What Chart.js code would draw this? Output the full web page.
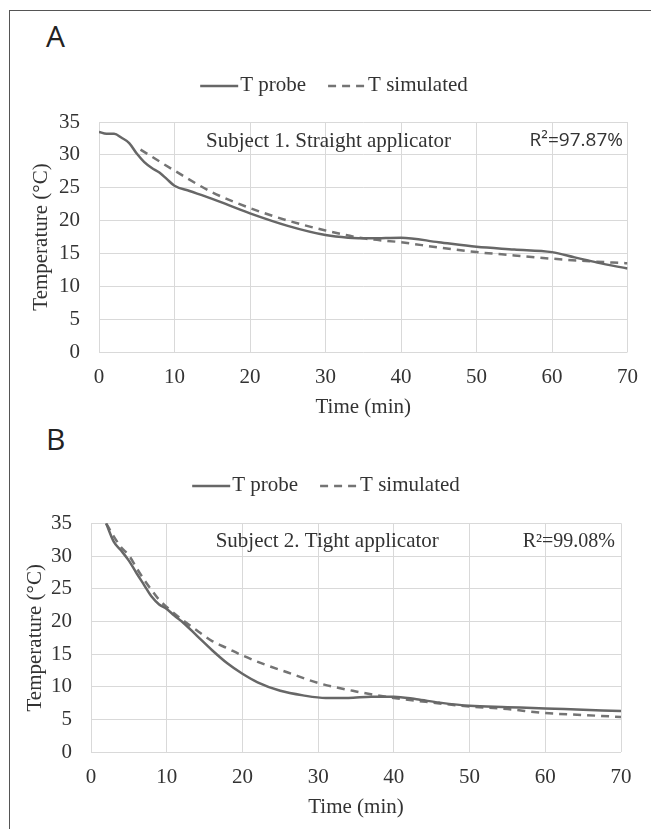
<!DOCTYPE html>
<html>
<head>
<meta charset="utf-8">
<script src="https://cdn.jsdelivr.net/npm/chart.js@4"></script>
<style>
    body { margin: 0; background: #fff; width: 651px; height: 829px; overflow: hidden; position: relative; }
    .frame { position: absolute; left: 9px; top: 10px; width: 700px; height: 900px; border-left: 1.5px solid #555; border-top: 1.5px solid #555; }
    .panel-letter { position: absolute; left: 46px; font: 30px 'Open Sans', 'Liberation Sans', sans-serif; color: #222; line-height: 1; }
    canvas { position: absolute; left: 0; }
</style>
</head>
<body>
<div class="frame"></div>
<div class="panel-letter" style="top: 21px;">A</div>
<div class="panel-letter" style="top: 424px;">B</div>
<canvas id="chartA" width="651" height="420" style="top: 0;"></canvas>
<canvas id="chartB" width="651" height="409" style="top: 420px;"></canvas>

<script>
// axis ticks
const xTicks = [0, 10, 20, 30, 40, 50, 60, 70];
const yTicks = [0, 5, 10, 15, 20, 25, 30, 35];

// Subject 1 - straight applicator
const timeProbeA = [0, 1, 2, 3, 4, 5, 6, 7, 8, 9, 10, 12, 15, 20, 25, 30, 33, 36, 40, 45, 50, 55, 60, 63, 66, 70];
const tempProbeA = [33.5, 33.2, 33.2, 32.6, 31.8, 30.2, 28.9, 28.0, 27.3, 26.3, 25.3, 24.5, 23.3, 21.1, 19.2, 17.8, 17.4, 17.3, 17.4, 16.7, 16.0, 15.6, 15.2, 14.4, 13.6, 12.7];
const timeSimA = [5.5, 10, 15, 20, 25, 30, 35, 40, 45, 50, 55, 60, 65, 70];
const tempSimA = [30.8, 27.6, 24.3, 21.9, 20.0, 18.5, 17.3, 16.7, 15.9, 15.2, 14.7, 14.2, 13.8, 13.5];

// Subject 2 - tight applicator
const timeProbeB = [2, 3, 4, 5, 6, 7, 8, 9, 10, 11, 12, 14, 16, 18, 20, 22, 25, 28, 31, 34, 37, 40, 43, 46, 50, 55, 60, 65, 70];
const tempProbeB = [35, 32.2, 30.8, 29.3, 27.4, 25.6, 23.8, 22.6, 21.9, 20.9, 20.0, 17.8, 15.6, 13.6, 12.0, 10.7, 9.4, 8.7, 8.3, 8.3, 8.5, 8.5, 8.1, 7.6, 7.1, 6.9, 6.7, 6.5, 6.3];
const timeSimB = [2, 3, 4, 5, 6, 7, 8, 9, 10, 12, 14, 16, 18, 20, 23, 26, 30, 35, 40, 45, 50, 55, 60, 65, 70];
const tempSimB = [35, 33.0, 31.3, 30.1, 28.2, 26.4, 24.8, 23.3, 22.2, 20.3, 18.6, 17.0, 15.9, 14.8, 13.4, 12.2, 10.6, 9.3, 8.3, 7.6, 7.0, 6.6, 6.0, 5.7, 5.4];

const seriesNames = ['T probe', 'T simulated'];

const SERIF = "'Times New Roman', 'Liberation Serif', serif";
const TEXT_COLOR = '#333333';
const GRID_COLOR = '#d9d9d9';

const toPoints = (xs, ys) => xs.map((x, i) => ({ x: x, y: ys[i] }));

// draws the excel-like legend and the text boxes inside the plot
const overlayPlugin = {
    id: 'overlay',
    afterDraw(chart, args, opts) {
        const ctx = chart.ctx;
        const xs = chart.scales.x;
        const ys = chart.scales.y;

        // legend
        ctx.save();
        ctx.font = `21px ${SERIF}`;
        ctx.textBaseline = 'middle';
        const sample = 38, textGap = 2, itemGap = 22;
        const items = chart.data.datasets.map(ds => ({ ds, w: ctx.measureText(ds.label).width }));
        let total = items.reduce((a, it) => a + sample + textGap + it.w, 0) + itemGap * (items.length - 1);
        let x = opts.legendX - total / 2;
        const y = opts.legendY;
        items.forEach(it => {
            ctx.strokeStyle = it.ds.borderColor;
            ctx.lineWidth = it.ds.borderWidth;
            ctx.setLineDash(it.ds.borderDash || []);
            ctx.beginPath();
            ctx.moveTo(x, y + 1);
            ctx.lineTo(x + sample, y + 1);
            ctx.stroke();
            ctx.setLineDash([]);
            ctx.fillStyle = TEXT_COLOR;
            ctx.textAlign = 'left';
            ctx.fillText(it.ds.label, x + sample + textGap, y);
            x += sample + textGap + it.w + itemGap;
        });

        // notes in the plot
        opts.notes.forEach(n => {
            ctx.font = n.font;
            ctx.fillStyle = TEXT_COLOR;
            ctx.textAlign = n.align;
            ctx.fillText(n.text, xs.getPixelForValue(n.x), ys.getPixelForValue(n.y));
        });
        ctx.restore();
    }
};

function makeChart(canvasId, probe, sim, cfg) {
    const ctx = document.getElementById(canvasId);
    return new Chart(ctx, {
        type: 'line',
        data: {
            datasets: [{
                label: seriesNames[0],
                data: probe,
                borderColor: '#676767',
                borderWidth: 2.5,
                pointRadius: 0,
                cubicInterpolationMode: 'monotone'
            }, {
                label: seriesNames[1],
                data: sim,
                borderColor: '#747474',
                borderWidth: 2.5,
                borderDash: [8, 6],
                pointRadius: 0,
                cubicInterpolationMode: 'monotone'
            }]
        },
        options: {
            responsive: false,
            animation: false,
            layout: { padding: cfg.padding },
            scales: {
                x: {
                    type: 'linear',
                    min: 0,
                    max: 70,
                    afterBuildTicks: (scale) => { scale.ticks = xTicks.map(v => ({ value: v })); },
                    afterFit: (scale) => { scale.height = cfg.xAxisHeight; },
                    grid: { color: GRID_COLOR, drawTicks: false },
                    border: { display: false },
                    ticks: { color: TEXT_COLOR, padding: 13, maxRotation: 0, font: { family: SERIF, size: 21 } },
                    title: {
                        display: true,
                        text: 'Time (min)',
                        color: TEXT_COLOR,
                        padding: { top: 0, bottom: 0 },
                        font: { family: SERIF, size: 21 }
                    }
                },
                y: {
                    min: 0,
                    max: 35,
                    afterBuildTicks: (scale) => { scale.ticks = yTicks.map(v => ({ value: v })); },
                    afterFit: (scale) => { scale.width = cfg.yAxisWidth; },
                    grid: { color: GRID_COLOR, drawTicks: false },
                    border: { display: false },
                    ticks: { color: TEXT_COLOR, padding: 19, font: { family: SERIF, size: 21 } },
                    title: {
                        display: true,
                        text: 'Temperature (°C)',
                        color: TEXT_COLOR,
                        padding: { top: cfg.yTitlePad, bottom: 0 },
                        font: { family: SERIF, size: 21 }
                    }
                }
            },
            plugins: {
                legend: { display: false },
                tooltip: { enabled: false },
                overlay: {
                    legendX: cfg.legendX,
                    legendY: cfg.legendY,
                    notes: cfg.notes
                }
            }
        },
        plugins: [overlayPlugin]
    });
}

makeChart('chartA', toPoints(timeProbeA, tempProbeA), toPoints(timeSimA, tempSimA), {
    padding: { top: 122, right: 22.5, bottom: 0, left: 0 },
    xAxisHeight: 68,
    yAxisWidth: 99,
    yTitlePad: 29,
    legendX: 334,
    legendY: 85,
    notes: [
        { text: 'Subject 1. Straight applicator', x: 30.4, y: 32.1, align: 'center', font: `21px ${SERIF}` },
        { text: 'R²=97.87%', x: 69.4, y: 32.1, align: 'right', font: "19px 'Open Sans', 'Liberation Sans', sans-serif" }
    ]
});

makeChart('chartB', toPoints(timeProbeB, tempProbeB), toPoints(timeSimB, tempSimB), {
    padding: { top: 103.3, right: 30, bottom: 9.4, left: 0 },
    xAxisHeight: 67.3,
    yAxisWidth: 91,
    yTitlePad: 22.4,
    legendX: 326,
    legendY: 65,
    notes: [
        { text: 'Subject 2. Tight applicator', x: 31.2, y: 32.2, align: 'center', font: `21px ${SERIF}` },
        { text: 'R²=99.08%', x: 69.2, y: 32.2, align: 'right', font: `20px ${SERIF}` }
    ]
});
</script>
</body>
</html>
